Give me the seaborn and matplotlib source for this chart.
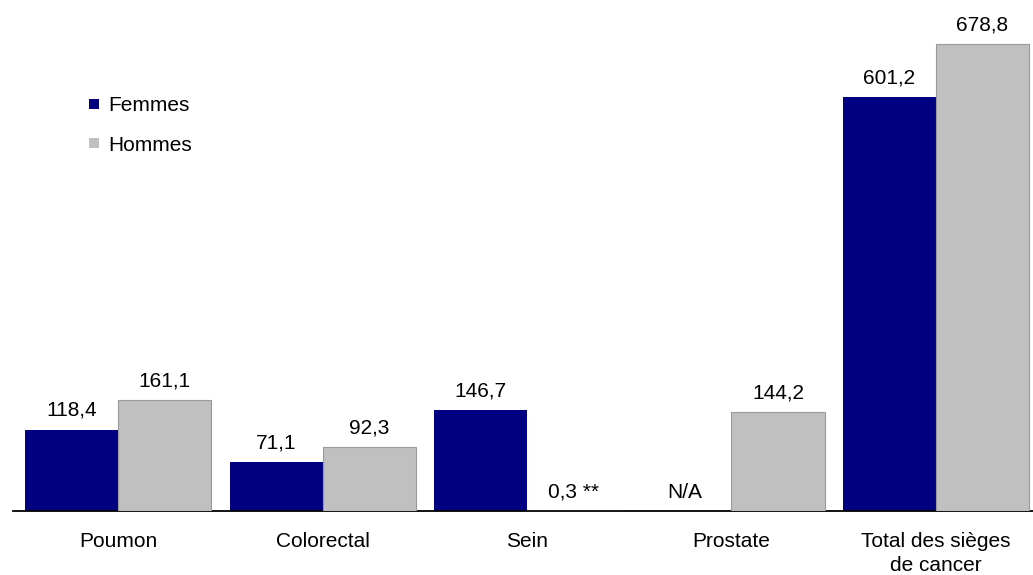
import numpy as np
import pandas as pd
import matplotlib
matplotlib.use('Agg')
import matplotlib.pyplot as plt
import seaborn as sns
from matplotlib.lines import Line2D

# ─── Données ────────────────────────────────────────────────────────────────
categories = ['Poumon', 'Colorectal', 'Sein', 'Prostate', 'Total des sièges\nde cancer']
femmes = [118.4, 71.1, 146.7, np.nan, 601.2]
hommes = [161.1, 92.3, 0.3, 144.2, 678.8]
groupes = ['Femmes', 'Hommes']
couleurs = ['#000080', '#C0C0C0']
# ────────────────────────────────────────────────────────────────────────────

df = pd.DataFrame({
    'siege': categories * 2,
    'sexe': ['Femmes'] * len(categories) + ['Hommes'] * len(categories),
    'taux': femmes + hommes,
})

sns.set_style('white')
plt.rcParams['font.family'] = ['Liberation Sans', 'DejaVu Sans']
plt.rcParams['text.color'] = 'black'
plt.rcParams['xtick.color'] = 'black'

FS = 15

fig = plt.figure(figsize=(10.33, 5.75), dpi=100)
ax = fig.add_axes([13 / 1033, 64 / 575, 1 - 13 / 1033, 511 / 575])

sns.barplot(data=df, x='siege', y='taux', hue='sexe', order=categories,
            hue_order=groupes, palette=couleurs, width=0.91, saturation=1,
            errorbar=None, legend=False, ax=ax)


def fmt_fr(v):
    return f'{v:.1f}'.replace('.', ',')


for cont, nom in zip(ax.containers, groupes):
    labels = []
    for v in cont.datavalues:
        txt = fmt_fr(v)
        if nom == 'Hommes' and abs(v - 0.3) < 1e-6:
            txt += ' **'
        labels.append(txt)
    for p in cont.patches:
        if nom == 'Hommes':
            p.set_edgecolor('#9a9a9a')
            p.set_linewidth(0.8)
            p.set_zorder(3)
        else:
            p.set_linewidth(0)
    ax.bar_label(cont, labels=labels, padding=7, fontsize=FS, color='black')

# pas de donnée pour la prostate chez les femmes
ax.text(3 - 0.2275, 13, 'N/A', ha='center', va='bottom', fontsize=FS)

ax.set_xlim(-0.515, 4.475)
ax.set_ylim(0, 742.7)
ax.set_xlabel('')
ax.set_ylabel('')
ax.set_yticks([])
ax.tick_params(axis='x', length=0, pad=15, labelsize=FS)
for lab in ax.get_xticklabels():
    lab.set_linespacing(1.35)
for s in ['top', 'right', 'left']:
    ax.spines[s].set_visible(False)
ax.spines['bottom'].set_color('black')
ax.spines['bottom'].set_linewidth(1.3)

handles = [Line2D([], [], linestyle='none', marker='s', markersize=6.8,
                  markerfacecolor=c, markeredgewidth=0, label=g)
           for g, c in zip(groupes, couleurs)]
fig.legend(handles=handles, loc='upper left', bbox_to_anchor=(0.067, 0.866),
           frameon=False, fontsize=FS, handlelength=0.6, handletextpad=0.35,
           labelspacing=1.0)

fig.savefig('out.png', dpi=100)
